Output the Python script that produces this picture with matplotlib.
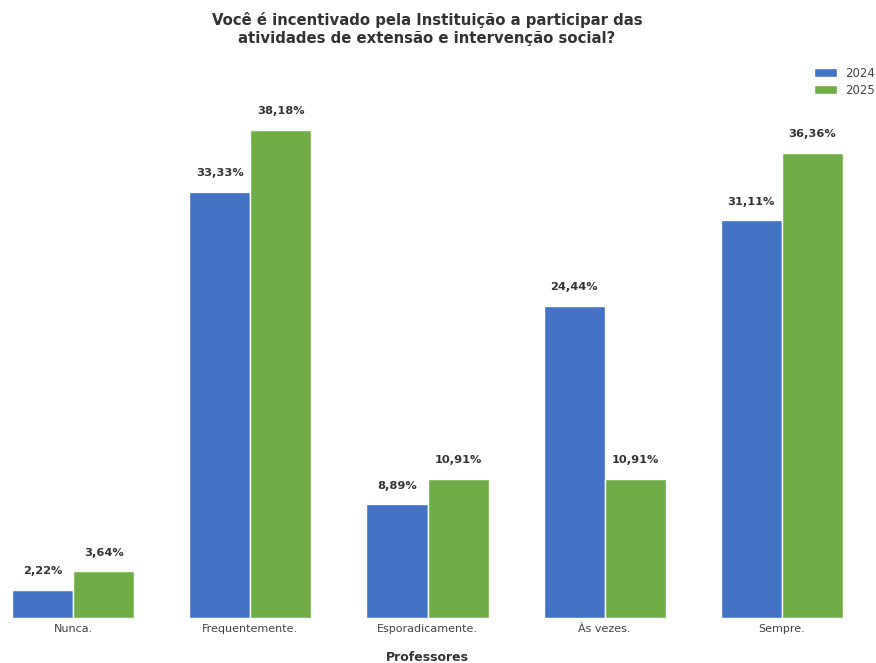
import numpy as np
import matplotlib
matplotlib.use("Agg")
import matplotlib.pyplot as plt

# dados
categorias = ["Nunca.", "Frequentemente.", "Esporadicamente.", "Às vezes.", "Sempre."]
valores_2024 = [2.22, 33.33, 8.89, 24.44, 31.11]
valores_2025 = [3.64, 38.18, 10.91, 10.91, 36.36]
anos = ["2024", "2025"]

cor_2024 = "#4472C4"
cor_2025 = "#70AD47"

fig = plt.figure(figsize=(8.76, 6.63), dpi=100)
ax = fig.add_axes([12 / 876, 1 - 618 / 663, (843 - 12) / 876, (618 - 57) / 663])

x = np.arange(len(categorias))
w = 0.345
b1 = ax.bar(x - w / 2, valores_2024, w, color=cor_2024, edgecolor="white",
            linewidth=1, label=anos[0])
b2 = ax.bar(x + w / 2, valores_2025, w, color=cor_2025, edgecolor="white",
            linewidth=1, label=anos[1])

for barras in (b1, b2):
    for bar in barras:
        h = bar.get_height()
        ax.annotate(f"{h:.2f}%".replace(".", ","),
                    (bar.get_x() + bar.get_width() / 2, h),
                    xytext=(0, 10), textcoords="offset points",
                    ha="center", va="bottom", fontsize=8.2,
                    fontweight="bold", color="#333333")

ax.set_xlim(-w, len(categorias) - 1 + w)
ax.set_ylim(0, 43.9)
ax.set_xticks(x)
ax.set_xticklabels(categorias, fontsize=8, color="#444444")
ax.tick_params(axis="x", length=0, pad=4)
ax.set_yticks([])
for s in ax.spines.values():
    s.set_visible(False)

ax.set_xlabel("Professores", fontsize=9, fontweight="bold", color="#333333",
              labelpad=12.5)

fig.text(427 / 876, 1 - 29 / 663,
         "Você é incentivado pela Instituição a participar das\n"
         "atividades de extensão e intervenção social?",
         ha="center", va="center", fontsize=10.7, fontweight="bold",
         color="#333333", linespacing=1.2)

fig.legend(loc="upper right", bbox_to_anchor=(1.011, 1 - 56 / 663),
           frameon=False, fontsize=8.5, handlelength=1.9, handleheight=0.8,
           handletextpad=0.7, labelspacing=0.35, labelcolor="#444444")

fig.savefig("out.png", dpi=100)
